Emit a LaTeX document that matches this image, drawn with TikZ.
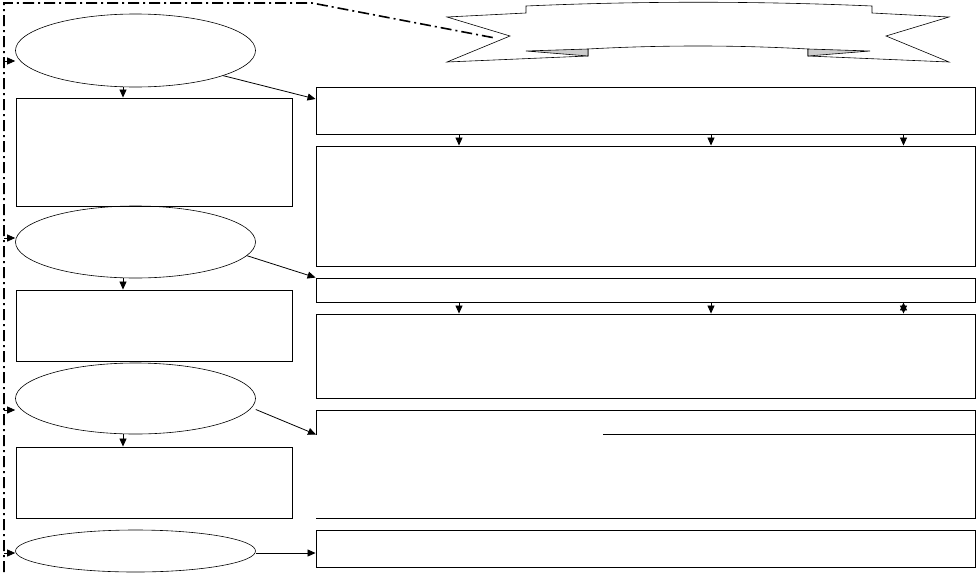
\documentclass[tikz,border=0pt]{standalone}
\usepackage{tikz}
\usetikzlibrary{shapes.geometric,arrows.meta}

\begin{document}
\begin{tikzpicture}[x=1pt,y=-1pt,
		blob/.style={draw,ellipse,inner sep=0pt,line width=0.6pt,minimum width=240pt},
		slab/.style={draw,rectangle,inner sep=0pt,line width=0.9pt},
		flow/.style={-{Triangle[length=8pt,width=7pt]},line width=0.8pt},
		frame/.style={line width=1.6pt,dash pattern=on 11pt off 4pt on 2pt off 4pt}]
		\useasboundingbox (0,0) rectangle (976,573);

		\draw (135.5,50.5) node [blob, minimum height=73pt] (e1) {};
		\draw (135.5,242) node [blob, minimum height=72pt] (e2) {};
		\draw (135.5,398.5) node [blob, minimum height=71pt] (e3) {};
		\draw (135.5,551) node [blob, minimum height=42pt] (e4) {};

		\draw (154,152) node [slab, minimum width=276pt, minimum height=108pt] (r1) {};
		\draw (154,325.5) node [slab, minimum width=276pt, minimum height=71pt] (r2) {};
		\draw (154,482.5) node [slab, minimum width=276pt, minimum height=71pt] (r3) {};

		\draw (645.5,110.5) node [slab, minimum width=659pt, minimum height=47pt] (A) {};
		\draw (645.5,206) node [slab, minimum width=659pt, minimum height=120pt] (B) {};
		\draw (645.5,290) node [slab, minimum width=659pt, minimum height=24pt] (C) {};
		\draw (645.5,356) node [slab, minimum width=659pt, minimum height=84pt] (D) {};
		\draw (645.5,464.5) node [inner sep=0pt, outer sep=0pt, minimum width=659pt, minimum height=108pt] (E) {};
		\draw (645.5,548.5) node [slab, minimum width=659pt, minimum height=37pt] (F) {};

		\coordinate (Ecut) at (316,434.5);
		\coordinate (Eline) at (603,434.5);
		\draw [line width=0.9pt] (Ecut) -- (E.north west) -- (E.north east) -- (E.south east) -- (E.south west);
		\draw [line width=0.9pt] (Eline) -- (Eline -| E.east);

		\coordinate (f1) at (4,61);
		\coordinate (f2) at (4,238);
		\coordinate (f3) at (4,410);
		\coordinate (f4) at (4,553);
		\coordinate (tip) at (495,38);
		\draw [frame] (4,572) -- (f4) -- (f3) -- (f2) -- (f1) -- (4,3) -- (312,3) -- (tip);

		\coordinate (dx) at (123,0);
		\coordinate (k1) at (459,0);
		\coordinate (k2) at (711,0);
		\coordinate (k3) at (903.5,0);

		\draw [flow]
			(f1) edge (e1.west |- f1)
			(f2) edge (e2.west |- f2)
			(f3) edge (e3.west |- f3)
			(f4) edge (e4.west |- f4)
			(e1.south -| dx) edge (r1.north -| dx)
			(e2.south -| dx) edge (r2.north -| dx)
			(e3.south -| dx) edge (r3.north -| dx)
			(e1.344) edge (A.178)
			(e2.353) edge (C.north west)
			([yshift=-11pt]e3.east) edge (Ecut)
			([yshift=-2pt]e4.east) edge ([yshift=-2pt]e4.east -| F.west)
			(A.south -| k1) edge (B.north -| k1)
			(A.south -| k2) edge (B.north -| k2)
			(A.south -| k3) edge (B.north -| k3)
			(C.south -| k1) edge (D.north -| k1)
			(C.south -| k2) edge (D.north -| k2)
			(C.south -| k3) edge (D.north -| k3)
		;

		\draw [line width=0.6pt, line join=miter]
			(447,17) -- (526,13) -- (526,6) .. controls (640,1) and (756,1) .. (872,6)
			-- (872,13) -- (949,17) -- (886,36) -- (949,62) -- (808,56) -- (808,49)
			.. controls (736,45) and (660,45) .. (588,49) -- (588,56) -- (447,62) -- (510,36) -- cycle;
		\draw [line width=0.6pt, fill=gray!40] (526,51) -- (588,49) -- (588,56) -- cycle;
		\draw [line width=0.6pt, fill=gray!40] (870,51) -- (808,49) -- (808,56) -- cycle;
	\end{tikzpicture}
\end{document}
